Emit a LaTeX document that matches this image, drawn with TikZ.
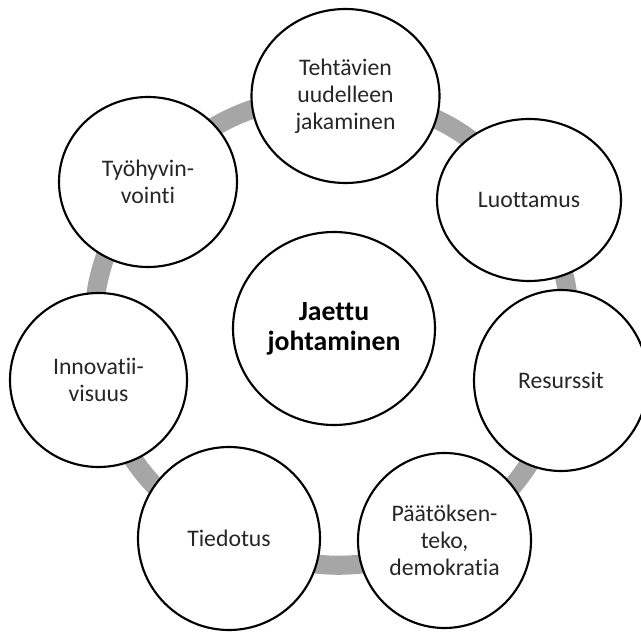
\documentclass[tikz,border=0pt]{standalone}
\usepackage{fontspec}
\setmainfont{Carlito}[Ligatures=NoCommon]
\usetikzlibrary{shapes.geometric,backgrounds}
\definecolor{ringgray}{HTML}{A6A6A6}
\definecolor{labeltext}{HTML}{262626}
\begin{document}
\begin{tikzpicture}[x=0.75pt,y=0.75pt,
  dims/.style 2 args={minimum width=#1*0.75pt, minimum height=#2*0.75pt},
  bubble/.style={ellipse, draw=black, line width=1.6pt, fill=white,
    inner sep=0pt, align=center, text=labeltext,
    font=\fontsize{17.8}{20.3}\selectfont},
  hub/.style={bubble, text=black, font=\fontsize{20.8}{22.5}\selectfont\bfseries},
  ring/.style={draw=ringgray, line width=14.3pt},
  arcstep/.style={bend left=24}]
\useasboundingbox (0,0) rectangle (641,632);

% centre topic
\node[hub, dims={202}{193}] (hub) at (334,303.5) {Jaettu\\johtaminen};

% surrounding topics, clockwise from the top
\node[bubble, dims={188}{174}] (teh) at (345.5,536) {Tehtävien\\uudelleen\\jakaminen};
\node[bubble, dims={184}{162}] (luo) at (529,432) {Luottamus};
\node[bubble, dims={174}{181}] (res) at (561,251.5) {Resurssit};
\node[bubble, dims={173}{175}] (paa) at (444.5,91.5) {Päätöksen-\\teko,\\demokratia};
\node[bubble, dims={182}{183}] (tie) at (229,93.5) {Tiedotus};
\node[bubble, dims={177}{174}] (inn) at (98.5,252) {Innovatii-\\visuus};
\node[bubble, dims={178}{170}] (tyo) at (148,450) {Työhyvin-\\vointi};

% grey ring joining the surrounding topics
\begin{scope}[on background layer]
  \draw[ring] (teh.center) to[arcstep] (luo.center) to[arcstep] (res.center)
    to[arcstep] (paa.center) to[arcstep] (tie.center) to[arcstep] (inn.center)
    to[arcstep] (tyo.center) to[arcstep] (teh.center);
\end{scope}
\end{tikzpicture}
\end{document}
